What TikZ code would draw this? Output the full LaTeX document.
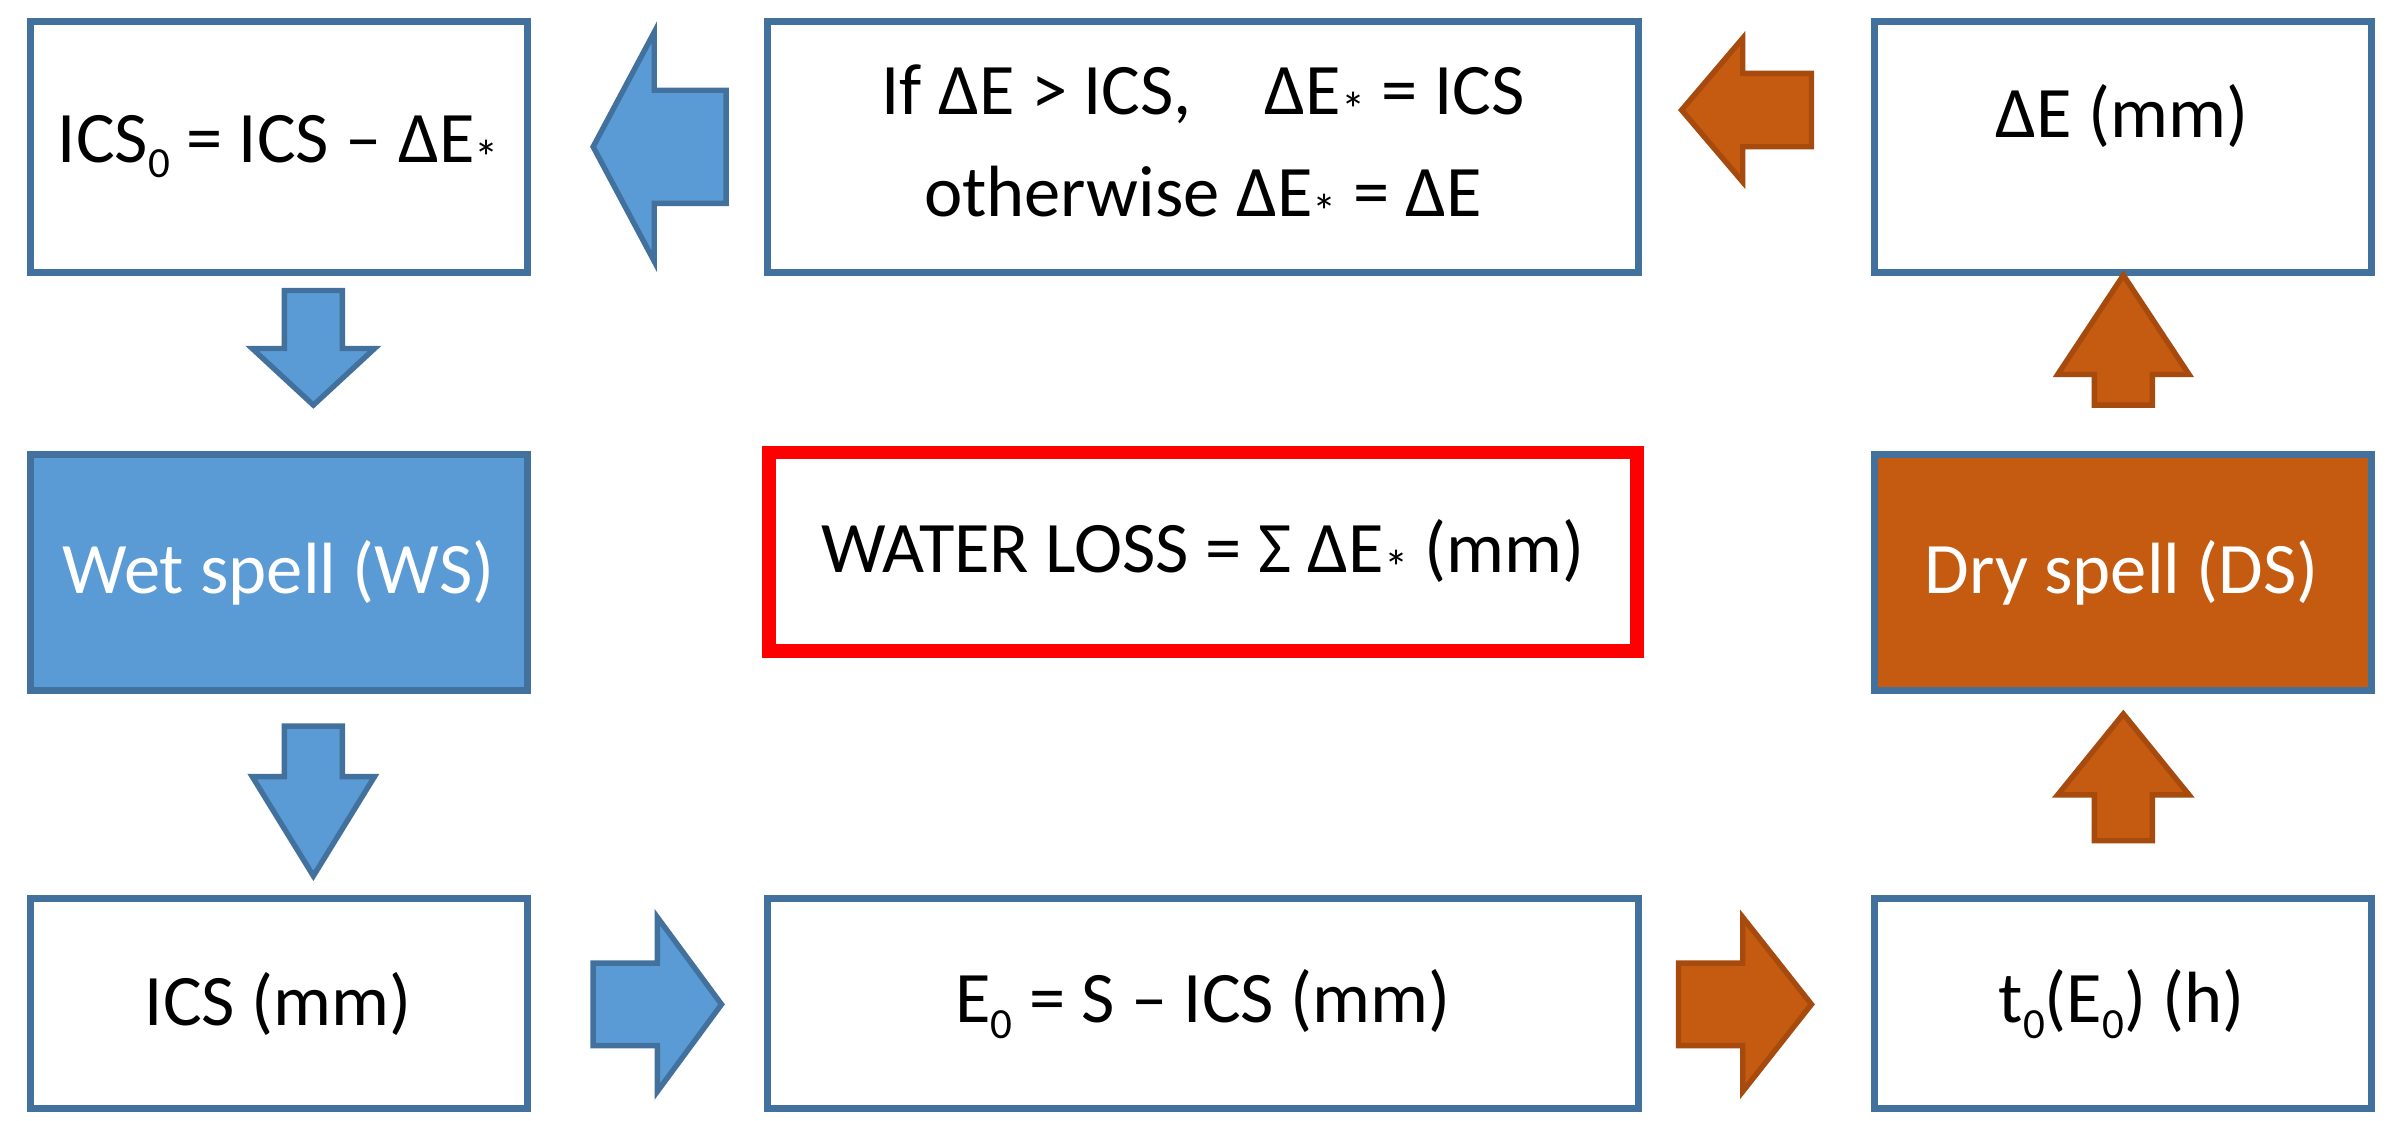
\documentclass[tikz,border=0pt]{standalone}
\usepackage{fontspec}
\setmainfont{Carlito}
\definecolor{bl}{HTML}{5B9BD5}
\definecolor{bld}{HTML}{41719C}
\definecolor{or}{HTML}{C55A11}
\definecolor{ord}{HTML}{A64A0E}
\newcommand{\st}{\raisebox{-0.35ex}{\small*}}
\newcommand{\sub}[1]{\raisebox{-0.45ex}{\footnotesize #1}}
\begin{document}
\begin{tikzpicture}[x=0.01cm,y=-0.01cm,
  box/.style={draw=bld,line width=1.3pt,fill=white},
  txt/.style={font=\fontsize{13.5}{17}\selectfont,align=center},
  barb/.style={fill=bl,draw=bld,line width=1pt},
  oarb/.style={fill=or,draw=ord,line width=1pt}]
\useasboundingbox (0,0) rectangle (1568,733);
% boxes
\draw[box] (20,14) rectangle (345,178);
\node[txt] (A) at (182,96) {ICS\sub{0} = ICS – ΔE\st};
\draw[box] (502,14) rectangle (1072,178);
\node[txt] (B) at (787,96) {If ΔE > ICS,\quad ΔE\st\ = ICS\\[2pt] otherwise ΔE\st\ = ΔE};
\draw[box] (1226,14) rectangle (1551,178);
\node[txt] (C) at (1388,76) {ΔE (mm)};
\draw[box,fill=bl] (20,297) rectangle (345,452);
\node[txt,text=white] (WS) at (182,375) {Wet spell (WS)};
\draw[draw=red,line width=2.6pt,fill=white] (503,296) rectangle (1071,426);
\node[txt] (WL) at (787,361) {WATER LOSS = Σ ΔE\st\ (mm)};
\draw[box,fill=or,draw=bld] (1226,297) rectangle (1551,452);
\node[txt,text=white] (DS) at (1388,375) {Dry spell (DS)};
\draw[box] (20,588) rectangle (345,725);
\node[txt] (I) at (182,657) {ICS (mm)};
\draw[box] (502,588) rectangle (1072,725);
\node[txt] (E) at (787,657) {E\sub{0} = S – ICS (mm)};
\draw[box] (1226,588) rectangle (1551,725);
\node[txt] (T) at (1388,657) {t\sub{0}(E\sub{0}) (h)};
% left arrow blue
\draw[barb] (388,96) -- (428,21) -- (428,59) -- (475,59) -- (475,133) -- (428,133) -- (428,171) -- cycle;
% left arrow orange
\draw[oarb] (1100,72) -- (1140,25) -- (1140,48) -- (1185,48) -- (1185,96) -- (1140,96) -- (1140,119) -- cycle;
% down arrows blue
\draw[barb] (186,190) -- (224,190) -- (224,228) -- (245,228) -- (205,265) -- (165,228) -- (186,228) -- cycle;
\draw[barb] (186,475) -- (224,475) -- (224,508) -- (245,508) -- (205,573) -- (165,508) -- (186,508) -- cycle;
% up arrows orange
\draw[oarb] (1370,265) -- (1408,265) -- (1408,245) -- (1432,245) -- (1389,180) -- (1346,245) -- (1370,245) -- cycle;
\draw[oarb] (1370,550) -- (1408,550) -- (1408,520) -- (1432,520) -- (1389,467) -- (1346,520) -- (1370,520) -- cycle;
% right arrows bottom
\draw[barb] (388,630) -- (430,630) -- (430,600) -- (472,657) -- (430,714) -- (430,684) -- (388,684) -- cycle;
\draw[oarb] (1098,630) -- (1140,630) -- (1140,600) -- (1185,657) -- (1140,714) -- (1140,684) -- (1098,684) -- cycle;
\end{tikzpicture}
\end{document}
